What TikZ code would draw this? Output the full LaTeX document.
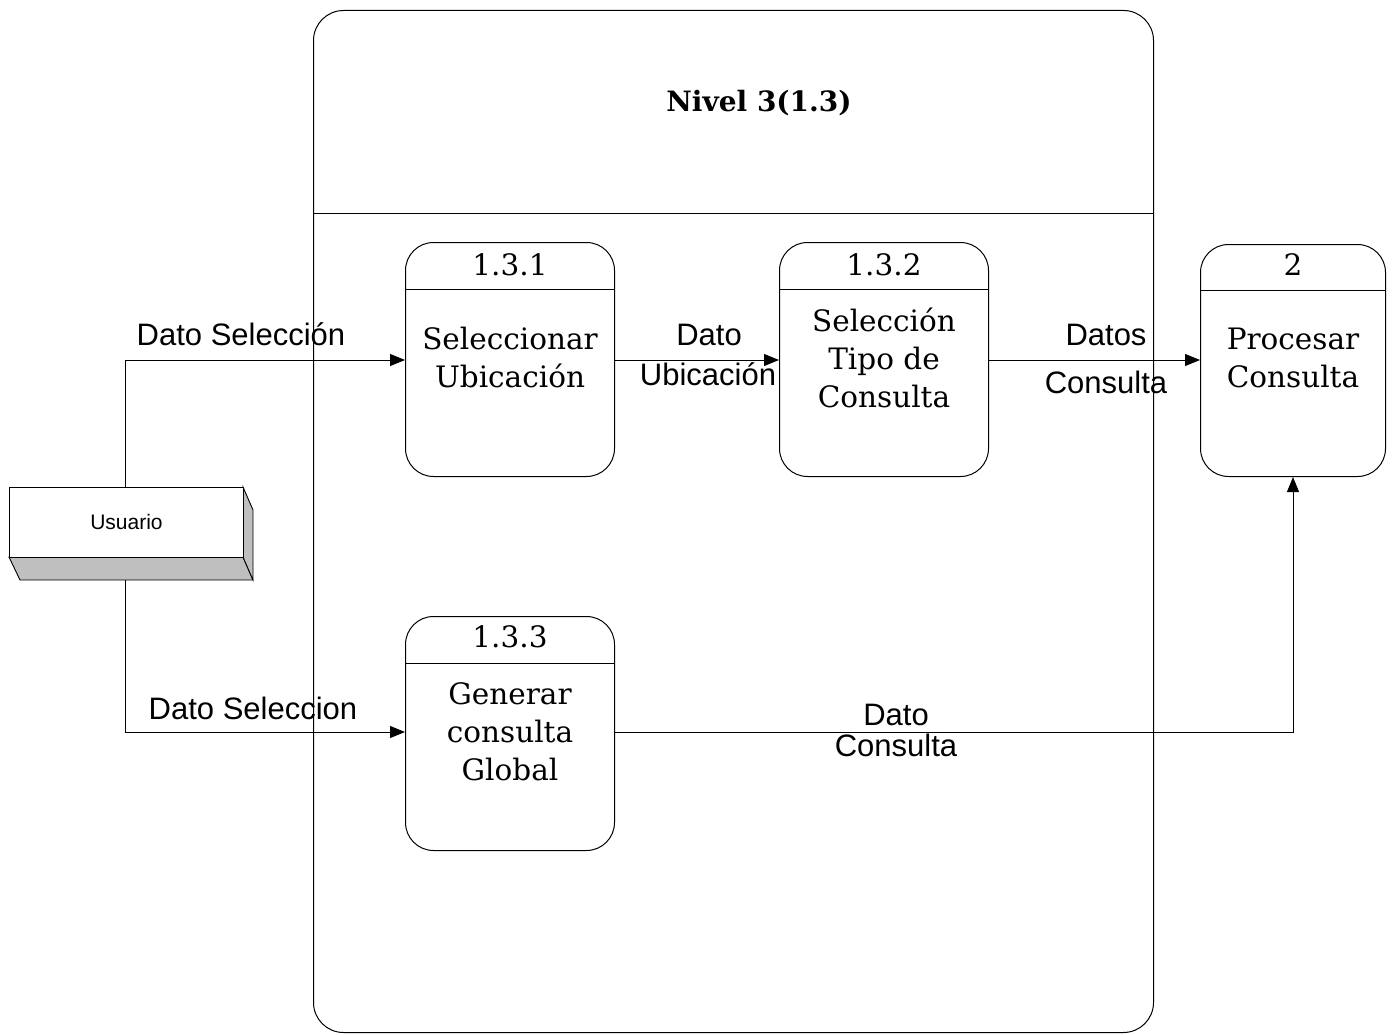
\documentclass[tikz,border=0pt]{standalone}
\usepackage{fontspec}
\setmainfont{DejaVu Serif}
\newfontfamily\lab{Liberation Sans}
\usetikzlibrary{arrows.meta}
\begin{document}
\begin{tikzpicture}[x=1pt,y=-1pt,
  line width=1pt,
  flow/.style={-{Triangle[length=15pt,width=12pt]}},
  lbl/.style={font=\lab\fontsize{31}{34}\selectfont, inner sep=0pt},
  ptxt/.style={font=\fontsize{29.5}{38}\selectfont, align=center, inner sep=0pt},
  proc/.style={draw, rounded corners=28pt, minimum width=209pt, minimum height=234pt, inner sep=0pt}]
\useasboundingbox (0,0) rectangle (1397,1035);
% container
\node[draw, rounded corners=30pt, minimum width=840pt, minimum height=1022pt, anchor=north west, inner sep=0pt] (cont) at (313,10) {};
\draw (313,214) -- (1153,214);
\node[font=\bfseries\fontsize{28}{32}\selectfont, inner sep=0pt] (title) at (759,103) {Nivel 3(1.3)};
% processes
\node[proc, anchor=north west] (p1) at (405,242) {};
\draw (405,289) -- (614,289);
\node[ptxt] (n1) at (510,265) {1.3.1};
\node[ptxt] (t1) at (510,358) {Seleccionar\\Ubicación};

\node[proc, anchor=north west] (p2) at (779,242) {};
\draw (779,289) -- (988,289);
\node[ptxt] (n2) at (884,265) {1.3.2};
\node[ptxt] (t2) at (884,358) {Selección\\Tipo de\\Consulta};

\node[proc, anchor=north west, minimum width=185pt, minimum height=232pt] (p3) at (1200,244) {};
\draw (1200,290) -- (1385,290);
\node[ptxt] (n3) at (1293,265) {2};
\node[ptxt] (t3) at (1293,358) {Procesar\\Consulta};

\node[proc, anchor=north west] (p4) at (405,616) {};
\draw (405,663) -- (614,663);
\node[ptxt] (n4) at (510,637) {1.3.3};
\node[ptxt] (t4) at (510,732) {Generar\\consulta\\Global};
% Usuario
\filldraw[fill=gray!50, line width=0.9pt] (9,557) -- (20,580) -- (253,580) -- (243,557) -- cycle;
\filldraw[fill=gray!50, line width=0.9pt] (243,487) -- (253,510) -- (253,580) -- (243,557) -- cycle;
\node[draw, fill=white, line width=0.9pt, minimum width=234pt, minimum height=70pt, anchor=north west, inner sep=0pt, font=\lab\fontsize{21}{24}\selectfont] (u) at (9,487) {Usuario};
% flows
\coordinate (c1) at (125,360);
\coordinate (c2) at (125,732);
\coordinate (c3) at (1293,732);
\draw[flow] (u.north -| c1) -- (c1) -- (p1.west |- c1);
\draw[flow] (125,580) -- (c2) -- (p4.west |- c2);
\draw[flow] (p1.east |- c1) -- (p2.west |- c1);
\draw[flow] (p2.east |- c1) -- (p3.west |- c1);
\draw[flow] (p4.east |- c2) -- (c3) -- (p3.south);
% labels
\node[lbl] (l1) at (241,334) {Dato Selección};
\node[lbl] (l2) at (253,708) {Dato Seleccion};
\node[lbl] (l3) at (709,335) {Dato};
\node[lbl] (l4) at (708,374) {Ubicación};
\node[lbl] (l5) at (1106,335) {Datos};
\node[lbl] (l6) at (1106,382) {Consulta};
\node[lbl] (l7) at (896,715) {Dato};
\node[lbl] (l8) at (896,745) {Consulta};
\end{tikzpicture}
\end{document}
